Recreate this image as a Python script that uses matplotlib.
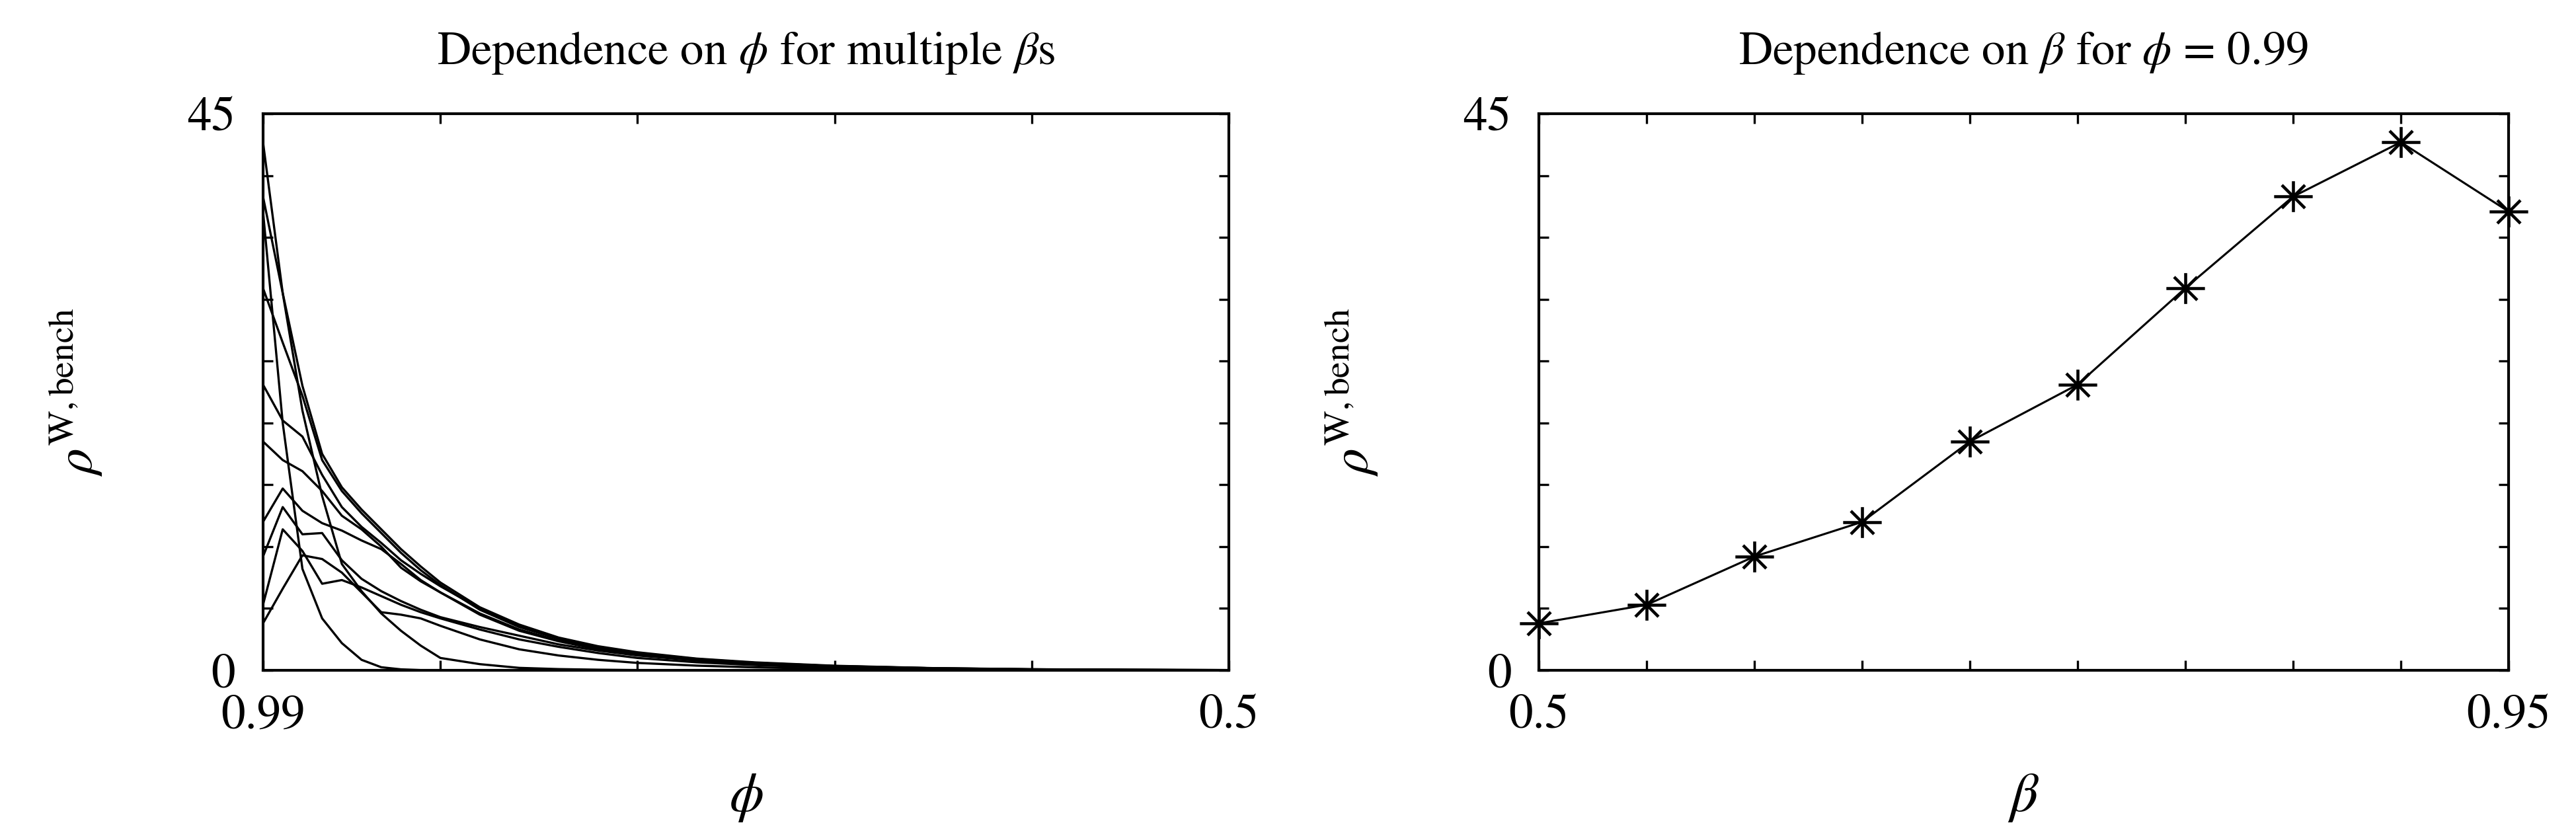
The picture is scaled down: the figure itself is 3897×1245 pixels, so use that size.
import matplotlib
matplotlib.use("Agg")
import matplotlib.pyplot as plt
from matplotlib.path import Path

plt.rcParams['font.family'] = ['STIXGeneral', 'DejaVu Serif']
plt.rcParams['mathtext.fontset'] = 'stix'

# left panel: rho vs phi, one curve per beta
phi = [0.99, 0.98, 0.97, 0.96, 0.95, 0.94, 0.93, 0.92, 0.91, 0.90, 0.88,
       0.86, 0.84, 0.82, 0.80, 0.77, 0.74, 0.70, 0.65, 0.60, 0.55, 0.50]
rho_b50 = [3.8, 6.6, 9.3, 9.0, 7.9, 6.3, 4.7, 4.5, 4.2, 3.6, 2.5,
           1.7, 1.2, 0.85, 0.6, 0.38, 0.24, 0.12, 0.05, 0.02, 0.01, 0.0]
rho_b55 = [5.3, 11.4, 9.65, 7.0, 7.3, 6.7, 6.0, 5.3, 4.7, 4.2, 3.3,
           2.5, 1.9, 1.4, 1.0, 0.65, 0.42, 0.22, 0.1, 0.04, 0.02, 0.01]
rho_b60 = [9.2, 13.2, 11.0, 11.1, 8.9, 7.4, 6.4, 5.6, 4.9, 4.3, 3.5,
           2.8, 2.1, 1.6, 1.2, 0.8, 0.52, 0.28, 0.13, 0.06, 0.03, 0.01]
rho_b65 = [12.0, 14.7, 12.9, 11.9, 11.3, 10.5, 9.8, 8.6, 7.3, 6.3, 4.5,
           3.2, 2.35, 1.7, 1.25, 0.82, 0.55, 0.3, 0.14, 0.06, 0.03, 0.01]
rho_b70 = [18.5, 17.0, 16.1, 14.5, 12.5, 11.4, 10.0, 8.3, 7.2, 6.3, 4.6,
           3.3, 2.4, 1.75, 1.3, 0.85, 0.56, 0.31, 0.15, 0.07, 0.03, 0.01]
rho_b75 = [23.1, 20.2, 18.9, 15.8, 13.2, 11.6, 10.3, 8.9, 7.8, 6.8, 5.0,
           3.6, 2.6, 1.9, 1.4, 0.92, 0.6, 0.34, 0.17, 0.08, 0.04, 0.02]
rho_b80 = [30.9, 26.5, 22.2, 17.0, 14.5, 12.7, 11.1, 9.5, 8.1, 6.9, 4.9,
           3.5, 2.55, 1.85, 1.38, 0.9, 0.6, 0.35, 0.17, 0.08, 0.04, 0.02]
rho_b85 = [38.3, 30.5, 23.0, 17.5, 14.8, 13.0, 11.4, 9.8, 8.4, 7.1, 5.1,
           3.7, 2.65, 1.95, 1.46, 0.95, 0.64, 0.37, 0.18, 0.09, 0.04, 0.02]
rho_b90 = [42.7, 30.5, 21.0, 14.1, 8.6, 6.4, 4.6, 3.2, 2.0, 1.0, 0.5,
           0.2, 0.1, 0.05, 0.02, 0.01, 0.0, 0.0, 0.0, 0.0, 0.0, 0.0]
rho_b95 = [37.1, 20.0, 8.2, 4.2, 2.2, 0.85, 0.25, 0.08, 0.02, 0.0, 0.0,
           0.0, 0.0, 0.0, 0.0, 0.0, 0.0, 0.0, 0.0, 0.0, 0.0, 0.0]
curves = [rho_b50, rho_b55, rho_b60, rho_b65, rho_b70,
          rho_b75, rho_b80, rho_b85, rho_b90, rho_b95]

# right panel: rho vs beta at phi = 0.99
beta = [0.5, 0.55, 0.6, 0.65, 0.7, 0.75, 0.8, 0.85, 0.9, 0.95]
rho_beta = [3.8, 5.3, 9.2, 12.0, 18.5, 23.1, 30.9, 38.3, 42.7, 37.1]

# asterisk marker like the matlab '*'
star = Path([(-1, 0), (1, 0), (0, -0.8), (0, 0.8),
             (-0.6, -0.6), (0.6, 0.6), (-0.6, 0.6), (0.6, -0.6)],
            [Path.MOVETO, Path.LINETO] * 4)

fig = plt.figure(figsize=(12.99, 4.15), dpi=300)
ax1 = fig.add_axes([0.1021, 0.1855, 0.3749, 0.6763])
ax2 = fig.add_axes([0.5974, 0.1855, 0.3764, 0.6763])

for c in curves:
    ax1.plot(phi, c, color='black', lw=0.8)

ax2.plot(beta, rho_beta, color='black', lw=0.75, marker=star,
         markersize=14, markeredgewidth=1.1, markeredgecolor='black',
         clip_on=False, zorder=3)

ax1.set_xlim(0.99, 0.5)
ax1.set_xticks([0.99, 0.9, 0.8, 0.7, 0.6, 0.5])
ax1.set_xticklabels(['0.99', '', '', '', '', '0.5'])
ax2.set_xlim(0.5, 0.95)
ax2.set_xticks(beta)
ax2.set_xticklabels(['0.5'] + [''] * 8 + ['0.95'])

yt = [0, 5, 10, 15, 20, 25, 30, 35, 40, 45]
for ax in (ax1, ax2):
    ax.set_ylim(0, 45)
    ax.set_yticks(yt)
    ax.set_yticklabels(['0'] + [''] * 8 + ['45'])
    ax.tick_params(direction='in', top=True, right=True, length=3.6,
                   width=0.8, labelsize=17.5)
    ax.tick_params(axis='y', pad=10)
    ax.tick_params(axis='x', pad=9)
    for s in ax.spines.values():
        s.set_linewidth(1.0)
    ax.set_ylabel(r'$\rho^{\mathrm{W,bench}}$', fontsize=19, labelpad=30)

ax1.set_xlabel(r'$\phi$', fontsize=20, labelpad=12)
ax2.set_xlabel(r'$\beta$', fontsize=20, labelpad=12)
ax1.set_title(r'Dependence on $\phi$ for multiple $\beta$s', fontsize=17, pad=18)
ax2.set_title(r'Dependence on $\beta$ for $\phi$ = 0.99', fontsize=17, pad=18)

fig.savefig('out.png', dpi=300, facecolor='white')
